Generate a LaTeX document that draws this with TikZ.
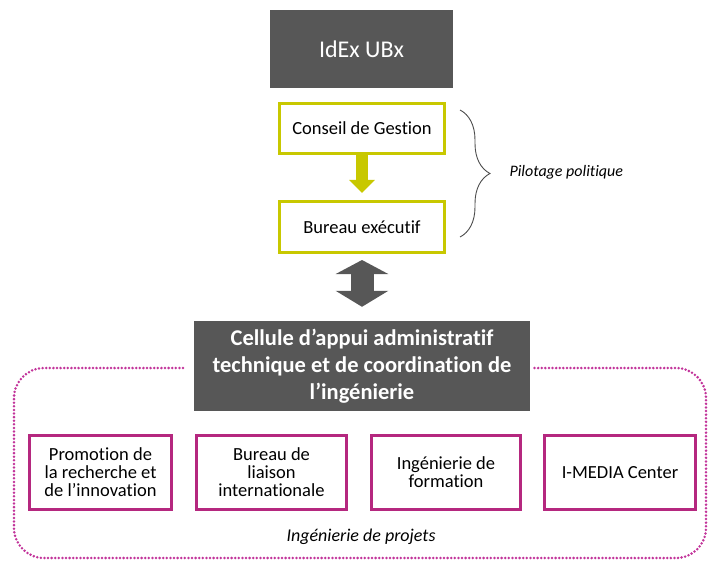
\documentclass[tikz,border=0pt]{standalone}
\usepackage{fontspec}
\setmainfont{Carlito}[Ligatures=NoCommon]
\usetikzlibrary{positioning,arrows.meta,decorations.pathreplacing}
\definecolor{boxgray}{HTML}{575757}
\definecolor{govyellow}{HTML}{C8C800}
\definecolor{unitpink}{HTML}{B5287F}
\definecolor{dotpink}{HTML}{C2349A}

\begin{document}
\begin{tikzpicture}[x=1pt,y=-1pt,
  darkbox/.style={fill=boxgray, text=white, align=center, inner sep=0pt},
  govbox/.style={draw=govyellow, line width=3pt, fill=white, minimum width=165pt,
    minimum height=50pt, inner sep=0pt, font=\fontsize{18.5}{20}\selectfont},
  unitbox/.style={draw=unitpink, line width=3pt, fill=white, minimum height=74pt,
    align=center, inner sep=0pt, font=\fontsize{18.5}{18}\selectfont},
  note/.style={font=\fontsize{16}{18}\selectfont\itshape}
]
\useasboundingbox (0,0) rectangle (708,561);

% dotted frame round the project units
\draw[dotpink, line width=2.8pt, line cap=round, dash pattern=on 0pt off 3.6pt, rounded corners=30pt]
  (183,368) -- (14,368) -- (14,558) -- (706,558) -- (706,368) -- (532,368);

\node[darkbox, minimum width=183pt, minimum height=78pt, font=\fontsize{24}{26}\selectfont]
  (idex) at (361.5,49) {IdEx UBx};
\node[govbox] (conseil) at (362,128.5) {Conseil de Gestion};
\node[govbox, minimum height=51pt] (bureau) at (362,227) {Bureau exécutif};
\node[darkbox, minimum width=336pt, minimum height=90pt, font=\fontsize{22.5}{27}\selectfont\bfseries]
  (cellule) at (362,366) {Cellule d’appui administratif\\technique et de coordination de\\l’ingénierie};

% project units
\node[unitbox, minimum width=142pt] (promo) at (100.5,472.5) {Promotion de\\la recherche et\\de l’innovation};
\node[unitbox, minimum width=150pt, right=22pt of promo] (liaison) {Bureau de\\liaison\\internationale};
\node[unitbox, minimum width=149pt, right=22pt of liaison] (formation) {Ingénierie de\\formation};
\node[unitbox, minimum width=151pt, right=21pt of formation] (imedia) {I-MEDIA Center};

\draw[govyellow, line width=12pt, -{Triangle[length=13pt,width=25pt]}, shorten >=7pt] (conseil) -- (bureau);
\draw[boxgray, line width=23pt, {Triangle[length=14pt,width=52pt]}-{Triangle[length=16pt,width=52pt]},
  shorten <=6pt, shorten >=14pt] (bureau) -- (cellule);

\draw[decorate, decoration={brace, amplitude=30pt}, black!70, line width=0.9pt] (460,110) -- (460,237);
\node[note, anchor=west] (pilotage) at (506,172) {Pilotage politique};
\node[font=\fontsize{18}{20}\selectfont\itshape] (projets) at (361,537) {Ingénierie de projets};
\end{tikzpicture}
\end{document}
